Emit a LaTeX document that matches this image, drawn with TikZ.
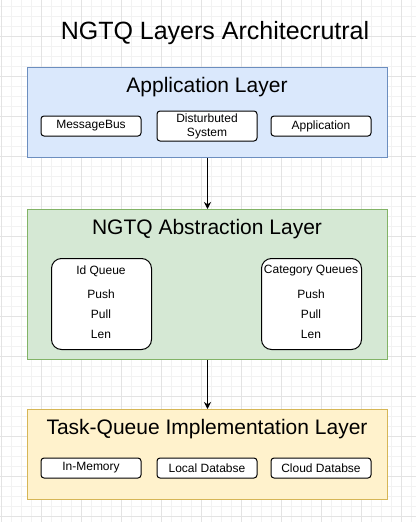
\documentclass[tikz,border=0pt]{standalone}
\usepackage{fontspec}
\setmainfont{Liberation Sans}
\usetikzlibrary{arrows.meta}

\definecolor{appfill}{HTML}{DAE8FC}
\definecolor{appline}{HTML}{6C8EBF}
\definecolor{absfill}{HTML}{D5E8D4}
\definecolor{absline}{HTML}{82B366}
\definecolor{taskfill}{HTML}{FFF2CC}
\definecolor{taskline}{HTML}{D6B656}

\begin{document}
\begin{tikzpicture}[x=1pt,y=-1pt,>={Stealth[length=7pt,width=7pt]},
  gridminor/.style={draw=black!5, line width=0.6pt},
  gridmajor/.style={draw=black!11, line width=0.6pt},
  layer/.style={draw, rectangle, line width=1pt, minimum width=360pt, anchor=north west, inner sep=0pt},
  layertitle/.style={font=\fontsize{21}{25}\selectfont},
  item/.style={draw, rectangle, rounded corners=3pt, fill=white, line width=1pt, minimum width=100pt, minimum height=20pt, inner sep=0pt, align=center, font=\fontsize{12}{14}\selectfont},
  queue/.style={draw, rectangle, rounded corners=10pt, fill=white, line width=1pt, minimum width=100pt, minimum height=91pt, anchor=north west},
  op/.style={font=\fontsize{12}{14}\selectfont}]
\useasboundingbox (0,0) rectangle (416,522);

% grid
\foreach \x in {1,11,...,411} \draw[gridminor] (\x,0) -- (\x,522);
\foreach \y in {6,16,...,516} \draw[gridminor] (0,\y) -- (416,\y);
\foreach \x in {1,41,...,401} \draw[gridmajor] (\x,0) -- (\x,522);
\foreach \y in {36,76,...,516} \draw[gridmajor] (0,\y) -- (416,\y);

\node[font=\fontsize{25}{29}\selectfont] (title) at (215,33) {NGTQ Layers Architecrutral};

% application layer
\node[layer, fill=appfill, draw=appline, minimum height=90pt] (app) at (27,67) {};
\node[layertitle] (apptitle) at (207,87) {Application Layer};
\node[item] (msgbus) at (91,126) {MessageBus};
\node[item, minimum height=30pt] (dist) at (207,126) {Disturbuted\\System};
\node[item] (appl) at (321,126) {Application};

% abstraction layer
\node[layer, fill=absfill, draw=absline, minimum height=150pt] (abs) at (27,209) {};
\node[layertitle] (abstitle) at (207,229) {NGTQ Abstraction Layer};
\node[queue] (idq) at (51,258) {};
\node[op] (idname) at (101,271) {Id Queue};
\node[op] (idpush) at (101,294) {Push};
\node[op] (idpull) at (101,314) {Pull};
\node[op] (idlen) at (101,334) {Len};
\node[queue] (catq) at (261,258) {};
\node[op] (catname) at (311,271) {Category Queues};
\node[op] (catpush) at (311,294) {Push};
\node[op] (catpull) at (311,314) {Pull};
\node[op] (catlen) at (311,334) {Len};

% implementation layer
\node[layer, fill=taskfill, draw=taskline, minimum height=90pt] (task) at (27,409) {};
\node[layertitle] (tasktitle) at (207,429) {Task-Queue Implementation Layer};
\node[item] (inmem) at (91,468) {In-Memory};
\node[item] (localdb) at (207,468) {Local Databse};
\node[item] (clouddb) at (321,468) {Cloud Databse};

\draw[->, line width=1pt] (app.south) -- (abs.north);
\draw[->, line width=1pt] (abs.south) -- (task.north);
\end{tikzpicture}
\end{document}
